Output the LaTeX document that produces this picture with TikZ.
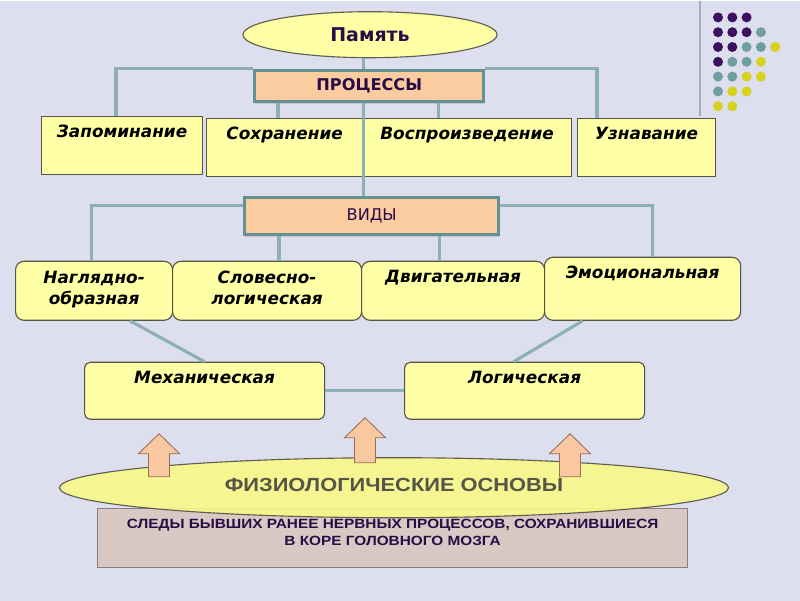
\documentclass[tikz,border=0pt]{standalone}
\usepackage{fontspec}
\setmainfont{DejaVu Sans}
\newfontfamily\arialfont[FakeStretch=1.15]{Liberation Sans}
\usepackage{tikz}
\usetikzlibrary{shapes.geometric,shadows}

\definecolor{bgcol}{RGB}{221,222,238}
\definecolor{boxfill}{RGB}{255,255,165}
\definecolor{boxline}{RGB}{85,85,70}
\definecolor{headfill}{RGB}{251,204,160}
\definecolor{headline}{RGB}{100,145,145}
\definecolor{connline}{RGB}{140,176,182}
\definecolor{inktext}{RGB}{40,12,70}
\definecolor{ovalfill}{RGB}{255,255,165}
\definecolor{ovalline}{RGB}{95,95,80}
\definecolor{fizfill}{RGB}{248,248,135}
\definecolor{fiztext}{RGB}{85,85,72}
\definecolor{sledfill}{RGB}{218,200,196}
\definecolor{sledline}{RGB}{135,125,125}
\definecolor{arrowfill}{RGB}{250,200,160}
\definecolor{arrowline}{RGB}{150,110,90}
\definecolor{decoline}{RGB}{165,172,195}
\definecolor{dotP}{RGB}{60,16,95}
\definecolor{dotT}{RGB}{110,158,160}
\definecolor{dotY}{RGB}{215,210,30}

\begin{document}
\begin{tikzpicture}[
  x=0.025cm, y=-0.025cm,
  tbox/.style={draw=boxline, fill=boxfill, line width=0.8pt, anchor=north west,
               align=center, inner xsep=2pt, inner ysep=0.2cm, text height=0.33cm,
               font=\fontsize{12}{15}\selectfont\bfseries\itshape},
  rbox/.style={tbox, rounded corners=6pt},
  hbox/.style={draw=headline, fill=headfill, line width=2.4pt, anchor=north west,
               inner sep=0pt, text=inktext,
               drop shadow={shadow xshift=0pt, shadow yshift=-2pt, opacity=0.25}},
  oval/.style={ellipse, draw=ovalline, line width=0.8pt, inner sep=0pt},
  conn/.style={draw=connline, line width=2.2pt},
  blockarrow/.style={fill=arrowfill, draw=arrowline, line width=0.6pt}
]
\fill[bgcol] (0,0) rectangle (800,600);

% deco corner
\draw[decoline, line width=1pt] (700,0) -- (700,115);
\foreach \j/\cl in {0/{P,P,P}, 1/{P,P,P,T}, 2/{P,P,T,T,Y}, 3/{P,T,T,Y},
                    4/{T,T,Y,Y}, 5/{T,Y,Y}, 6/{Y,Y}}
  \foreach \c [count=\i from 0] in \cl
    \fill[dot\c] (718+14.3*\i,16.7+14.8*\j) circle[radius=5];

% top
\node[oval, fill=ovalfill, minimum width=6.35cm, minimum height=1.15cm,
      text=inktext, font=\fontsize{13.5}{16}\selectfont\bfseries] (pam) at (370,34) {Память};
\node[hbox, minimum width=5.725cm, minimum height=0.775cm,
      font=\fontsize{11.5}{14}\selectfont\bfseries] (proc) at (253,68) {ПРОЦЕССЫ};

\node[tbox, minimum width=4.025cm, text depth=0.72cm] (zap) at (41,115) {Запоминание};
\node[tbox, minimum width=3.9cm, text depth=0.72cm] (soh) at (206,117) {Сохранение};
\node[tbox, minimum width=5.225cm, text depth=0.72cm] (vos) at (362,117) {Воспроизведение};
\node[tbox, minimum width=3.45cm, text depth=0.72cm] (uzn) at (577,117) {Узнавание};

\node[hbox, minimum width=6.35cm, minimum height=0.925cm,
      font=\fontsize{11.5}{14}\selectfont] (vid) at (243,195) {ВИДЫ};

\node[rbox, minimum width=3.925cm, text height=0.875cm, text depth=0.2cm] (nag) at (15,260) {Наглядно-\\образная};
\node[rbox, minimum width=4.725cm, text height=0.875cm, text depth=0.2cm] (slo) at (172,260) {Словесно-\\логическая};
\node[rbox, minimum width=4.575cm, text depth=0.745cm] (dvi) at (361,260) {Двигательная};
\node[rbox, minimum width=4.9cm, text depth=0.845cm] (emo) at (544,256) {Эмоциональная};

\node[tbox, rounded corners=4pt, minimum width=6cm, text depth=0.695cm] (meh) at (84,361) {Механическая};
\node[tbox, rounded corners=4pt, minimum width=6cm, text depth=0.695cm] (log) at (404,361) {Логическая};

% bottom
\node[draw=sledline, fill=sledfill, line width=0.8pt, anchor=north west,
      minimum width=14.75cm, inner sep=0pt, text height=0.925cm, text depth=0.55cm,
      align=center, text=inktext, font=\arialfont\fontsize{9.5}{12.2}\selectfont\bfseries]
  (sled) at (97,507) {СЛЕДЫ БЫВШИХ РАНЕЕ НЕРВНЫХ ПРОЦЕССОВ, СОХРАНИВШИЕСЯ\\В КОРЕ ГОЛОВНОГО МОЗГА};
\node[oval, fill=fizfill, fill opacity=0.9, text opacity=1, minimum width=16.725cm,
      minimum height=1.5cm, text height=0.35cm, text depth=0.15cm, text=fiztext,
      font=\arialfont\fontsize{13.5}{16}\selectfont\bfseries] (fiz) at (394,487) {ФИЗИОЛОГИЧЕСКИЕ ОСНОВЫ};

% connectors
\draw[conn] (pam.south -| soh.north east) -- (proc.north -| soh.north east);
\draw[conn] (proc.south -| soh.north east) -- (vid.north -| soh.north east);
\draw[conn] (proc.north west) -| ([xshift=1.875cm]zap.north west);
\draw[conn] (proc.north east) -| ([xshift=0.5cm]uzn.north west);
\foreach \dx/\tgt in {0.625cm/soh, 4.625cm/vos} {
  \path ([xshift=\dx]proc.south west) coordinate (top);
  \draw[conn] (top) -- (top |- \tgt.north);
}
\draw[conn] ([yshift=-0.25cm]vid.north west) -| ([xshift=-0.06cm]nag.north);
\draw[conn] ([yshift=-0.25cm]vid.north east) -| ([xshift=0.25cm]emo.north);
\foreach \dx/\tgt in {0.9cm/slo, 4.9cm/dvi} {
  \path ([xshift=\dx]vid.south west) coordinate (top);
  \draw[conn] (top) -- (top |- \tgt.north);
}
\draw[conn] ([xshift=0.9cm]nag.south) -- (meh.north);
\draw[conn] ([xshift=-1.5cm]emo.south) -- ([xshift=-0.275cm]log.north);
\draw[conn] (meh.east) -- (log.west);

% block arrows
\foreach \cx/\ty/\by in {159/433/476, 365/417/462, 570/433/476}
  \filldraw[blockarrow] (\cx-10.5,\by) -- (\cx-10.5,\ty+20) -- (\cx-20.5,\ty+20)
    -- (\cx,\ty) -- (\cx+20.5,\ty+20) -- (\cx+10.5,\ty+20) -- (\cx+10.5,\by) -- cycle;
\end{tikzpicture}
\end{document}
